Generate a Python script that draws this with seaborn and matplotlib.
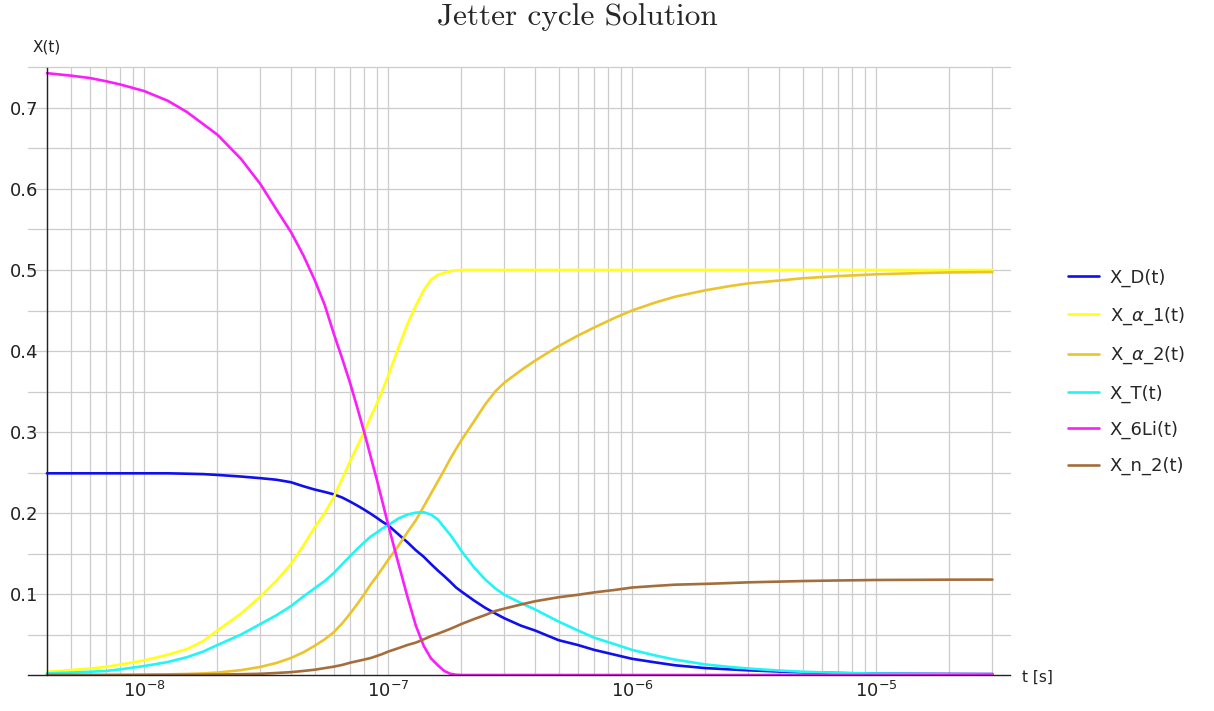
import numpy as np
import pandas as pd
import matplotlib
matplotlib.use("Agg")
import matplotlib.pyplot as plt
import seaborn as sns
from matplotlib.ticker import MultipleLocator, LogLocator, NullFormatter, FuncFormatter

# time points [s]
t_s = [4e-9, 5e-9, 6e-9, 7e-9, 8e-9, 1e-8, 1.25e-8, 1.5e-8, 1.75e-8, 2e-8,
       2.5e-8, 3e-8, 3.5e-8, 4e-8, 4.5e-8, 5e-8, 5.5e-8, 6e-8, 6.5e-8, 7e-8,
       7.5e-8, 8e-8, 8.5e-8, 9e-8, 9.5e-8, 1e-7, 1.1e-7, 1.2e-7, 1.3e-7, 1.4e-7,
       1.5e-7, 1.6e-7, 1.7e-7, 1.8e-7, 1.9e-7, 2e-7, 2.25e-7, 2.5e-7, 2.75e-7, 3e-7,
       3.5e-7, 4e-7, 5e-7, 6e-7, 7e-7, 8.5e-7, 1e-6, 1.25e-6, 1.5e-6, 2e-6,
       2.5e-6, 3e-6, 4e-6, 5e-6, 7e-6, 1e-5, 1.5e-5, 2e-5, 3e-5]

x_D = [0.249, 0.249, 0.249, 0.249, 0.249, 0.249, 0.249, 0.2485, 0.248, 0.247,
       0.245, 0.243, 0.241, 0.238, 0.233, 0.229, 0.226, 0.223, 0.219, 0.214,
       0.209, 0.204, 0.199, 0.194, 0.189, 0.185, 0.174, 0.164, 0.154, 0.146,
       0.137, 0.129, 0.122, 0.115, 0.108, 0.103, 0.092, 0.083, 0.076, 0.070,
       0.061, 0.055, 0.043, 0.037, 0.031, 0.025, 0.020, 0.0155, 0.012, 0.0085,
       0.007, 0.0058, 0.0043, 0.0033, 0.0024, 0.0016, 0.0014, 0.0013, 0.0012]

x_alpha1 = [0.004, 0.006, 0.008, 0.010, 0.013, 0.018, 0.025, 0.032, 0.042, 0.055,
            0.076, 0.097, 0.117, 0.137, 0.160, 0.182, 0.200, 0.220, 0.243, 0.264,
            0.283, 0.301, 0.319, 0.335, 0.352, 0.369, 0.403, 0.433, 0.456, 0.475,
            0.488, 0.494, 0.4965, 0.4985, 0.4995, 0.5, 0.5, 0.5, 0.5, 0.5,
            0.5, 0.5, 0.5, 0.5, 0.5, 0.5, 0.5, 0.5, 0.5, 0.5,
            0.5, 0.5, 0.5, 0.5, 0.5, 0.5, 0.5, 0.5, 0.5]

x_alpha2 = [0.0, 0.0, 0.0001, 0.0001, 0.0002, 0.0004, 0.0008, 0.0013, 0.002, 0.003,
            0.006, 0.010, 0.015, 0.021, 0.028, 0.036, 0.044, 0.053, 0.064, 0.076,
            0.088, 0.100, 0.112, 0.122, 0.132, 0.142, 0.159, 0.176, 0.191, 0.208,
            0.224, 0.239, 0.253, 0.267, 0.279, 0.290, 0.313, 0.334, 0.350, 0.361,
            0.376, 0.388, 0.406, 0.419, 0.429, 0.441, 0.450, 0.460, 0.467, 0.475,
            0.480, 0.4835, 0.487, 0.4898, 0.4925, 0.4947, 0.4962, 0.497, 0.4975]

x_T = [0.002, 0.003, 0.004, 0.005, 0.007, 0.011, 0.016, 0.022, 0.029, 0.037,
       0.050, 0.063, 0.074, 0.085, 0.097, 0.107, 0.116, 0.126, 0.137, 0.147,
       0.156, 0.164, 0.171, 0.176, 0.181, 0.185, 0.193, 0.198, 0.2005, 0.201,
       0.198, 0.192, 0.182, 0.173, 0.163, 0.153, 0.133, 0.118, 0.107, 0.099,
       0.089, 0.081, 0.066, 0.055, 0.046, 0.038, 0.031, 0.024, 0.019, 0.013,
       0.010, 0.008, 0.0055, 0.004, 0.0027, 0.0017, 0.0011, 0.0008, 0.0005]

x_6Li = [0.743, 0.740, 0.737, 0.733, 0.729, 0.721, 0.709, 0.695, 0.680, 0.667,
         0.637, 0.606, 0.574, 0.547, 0.518, 0.488, 0.457, 0.421, 0.390, 0.360,
         0.329, 0.299, 0.269, 0.241, 0.213, 0.186, 0.139, 0.097, 0.061, 0.036,
         0.0205, 0.012, 0.005, 0.0015, 0.0003, 0.0, 0.0, 0.0, 0.0, 0.0,
         0.0, 0.0, 0.0, 0.0, 0.0, 0.0, 0.0, 0.0, 0.0, 0.0,
         0.0, 0.0, 0.0, 0.0, 0.0, 0.0, 0.0, 0.0, 0.0]

x_n2 = [0.0, 0.0, 0.0, 0.0, 0.0, 0.0001, 0.0002, 0.0003, 0.0004, 0.0006,
        0.001, 0.0015, 0.0025, 0.0035, 0.005, 0.0065, 0.0085, 0.0103, 0.0125, 0.0152,
        0.0172, 0.0191, 0.021, 0.0235, 0.026, 0.0288, 0.033, 0.037, 0.040, 0.044,
        0.048, 0.051, 0.054, 0.057, 0.060, 0.063, 0.069, 0.074, 0.079, 0.082,
        0.087, 0.091, 0.096, 0.099, 0.102, 0.105, 0.108, 0.110, 0.1115, 0.1125,
        0.1135, 0.1144, 0.1153, 0.116, 0.1167, 0.1173, 0.1175, 0.1177, 0.1178]

labels = ["X_D(t)", r"X_$\alpha$_1(t)", r"X_$\alpha$_2(t)", "X_T(t)", "X_6Li(t)", "X_n_2(t)"]
series = [x_D, x_alpha1, x_alpha2, x_T, x_6Li, x_n2]
colors = ["#1010ee", "#ffff1a", "#ebc42d", "#22f5f5", "#fa1efa", "#a46e3c"]

sns.set_style("white")
plt.rcParams["font.family"] = ["DejaVu Sans"]

fig = plt.figure(figsize=(12.14, 7.11), dpi=100)
ax = fig.add_axes([28 / 1214, 1 - 675 / 711, (1010 - 28) / 1214, 607.5 / 711])
ax.set_xscale("log")

grid_c = "#cccccc"
for yv in np.arange(0.05, 0.76, 0.05):
    ax.axhline(yv, color=grid_c, lw=0.9, zorder=0, clip_on=False)

for vals, lab, col in zip(series, labels, colors):
    sns.lineplot(x=t_s, y=vals, color=col, lw=1.9, label=lab, ax=ax, legend=False)

ax.set_xlim(3.346e-9, 3.54e-5)
ax.set_ylim(0, 0.75)

ax.xaxis.set_major_locator(LogLocator(base=10, numticks=20))
ax.xaxis.set_minor_locator(LogLocator(base=10, subs=np.arange(2, 10), numticks=100))
ax.xaxis.set_minor_formatter(NullFormatter())
ax.grid(which="both", axis="x", color=grid_c, lw=0.9, zorder=0)
ax.set_axisbelow(True)

ax.yaxis.set_major_locator(MultipleLocator(0.1))
ax.yaxis.set_minor_locator(MultipleLocator(0.02))
ax.yaxis.set_major_formatter(FuncFormatter(lambda v, p: "" if abs(v) < 1e-9 else f"{v:.1f}"))

ax.spines["top"].set_visible(False)
ax.spines["right"].set_visible(False)
ax.spines["left"].set_position(("data", 4e-9))
for s in ["left", "bottom"]:
    ax.spines[s].set_color("#222222")
    ax.spines[s].set_linewidth(1.0)

ax.tick_params(axis="both", which="both", direction="in", color="#222222", labelcolor="#222222")
ax.tick_params(axis="x", which="major", length=8, width=1, labelsize=13, pad=4)
ax.tick_params(axis="x", which="minor", length=4, width=1)
ax.tick_params(axis="y", which="major", length=5, width=1, labelsize=13, pad=6)
ax.tick_params(axis="y", which="minor", length=3, width=1)
ax.set_xlabel("")
ax.set_ylabel("")

fig.text(47 / 1214, 1 - 47 / 711, "X(t)", ha="center", va="center", fontsize=11, color="#222222")
fig.text(1022 / 1214, 1 - 677 / 711, "t [s]", ha="left", va="center", fontsize=11, color="#222222")
fig.text(577 / 1214, 1 - 17 / 711, "Jetter cycle Solution", ha="center", va="center",
         fontsize=22.5, family="cmr10")

h, l = ax.get_legend_handles_labels()
fig.legend(h, l, loc="center left", bbox_to_anchor=(1061 / 1214, 1 - 372 / 711),
           frameon=False, fontsize=13, handlelength=1.7, handletextpad=0.6,
           labelspacing=1.0, borderaxespad=0)

fig.savefig("out.png", dpi=100)
